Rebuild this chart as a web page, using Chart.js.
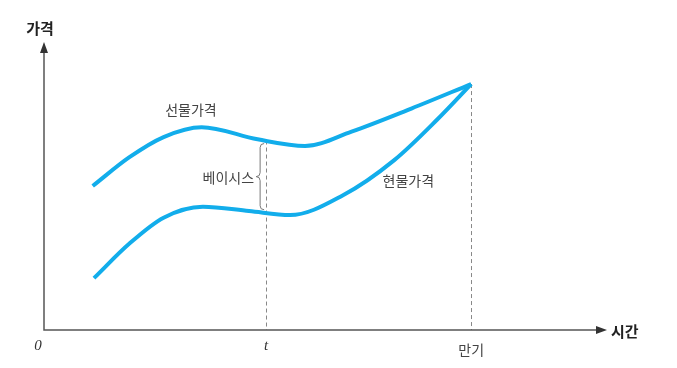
<!DOCTYPE html>
<html>
<head>
<meta charset="utf-8">
<script src="https://cdn.jsdelivr.net/npm/chart.js@4"></script>
<style>
  html, body { margin: 0; padding: 0; background: #fff; }
  canvas { display: block; }
</style>
</head>
<body>
<canvas id="basisChart" width="677" height="368"></canvas>
<script>
// time axis: 0 = origin, 10 = maturity
const futuresX = [1.14, 2.0, 2.8, 3.69, 5.0, 6.11, 7.2, 8.6, 10];
const futuresY = [5.00, 6.00, 6.70, 7.04, 6.62, 6.39, 6.89, 7.69, 8.54];
const spotX = [1.17, 2.0, 2.8, 3.72, 4.8, 5.76, 7.0, 8.2, 9.2, 10];
const spotY = [1.80, 3.00, 3.90, 4.28, 4.13, 3.99, 4.68, 5.90, 7.30, 8.54];

const seriesNames = ['선물가격', '현물가격'];
const xTickValues = [0, 5.2, 10];
const xTickLabels = ['0', 't', '만기'];
const axisTitles = ['시간', '가격'];
const basisLabel = '베이시스';

const LINE_COLOR = '#12adeb';
const FONT = '"Noto Sans CJK KR", "Noto Sans", sans-serif';

function toPoints(xs, ys) {
  return xs.map((x, i) => ({ x: x, y: ys[i] }));
}

function valueAt(xs, ys, x) {
  for (let i = 0; i < xs.length - 1; i++) {
    if (x >= xs[i] && x <= xs[i + 1]) {
      const f = (x - xs[i]) / (xs[i + 1] - xs[i]);
      return ys[i] + f * (ys[i + 1] - ys[i]);
    }
  }
  return ys[ys.length - 1];
}

const diagramPlugin = {
  id: 'diagram',
  beforeDatasetsDraw(chart) {
    const ctx = chart.ctx;
    const xs = chart.scales.x, ys = chart.scales.y;
    const y0 = ys.getPixelForValue(0);

    // dashed guides at t and maturity
    ctx.save();
    ctx.strokeStyle = '#888';
    ctx.lineWidth = 1;
    ctx.setLineDash([4, 3]);
    const tx = xs.getPixelForValue(xTickValues[1]);
    const tTop = ys.getPixelForValue(valueAt(futuresX, futuresY, xTickValues[1]));
    ctx.beginPath();
    ctx.moveTo(Math.round(tx) + 0.5, tTop);
    ctx.lineTo(Math.round(tx) + 0.5, y0);
    const mx = xs.getPixelForValue(xTickValues[2]);
    ctx.moveTo(Math.round(mx) + 0.5, ys.getPixelForValue(futuresY[futuresY.length - 1]));
    ctx.lineTo(Math.round(mx) + 0.5, y0);
    ctx.stroke();
    ctx.restore();
  },
  afterDraw(chart) {
    const ctx = chart.ctx;
    const xs = chart.scales.x, ys = chart.scales.y;
    const x0 = xs.getPixelForValue(0);
    const y0 = ys.getPixelForValue(0);
    const xEnd = chart.chartArea.right;
    const yEnd = chart.chartArea.top;

    ctx.save();
    // axes
    ctx.strokeStyle = '#555';
    ctx.fillStyle = '#333';
    ctx.lineWidth = 1.5;
    ctx.beginPath();
    ctx.moveTo(x0, yEnd + 8);
    ctx.lineTo(x0, y0);
    ctx.lineTo(xEnd - 8, y0);
    ctx.stroke();
    // arrow heads
    ctx.beginPath();
    ctx.moveTo(x0, yEnd);
    ctx.lineTo(x0 - 4, yEnd + 11);
    ctx.lineTo(x0 + 4, yEnd + 11);
    ctx.closePath();
    ctx.fill();
    ctx.beginPath();
    ctx.moveTo(xEnd, y0);
    ctx.lineTo(xEnd - 11, y0 - 4);
    ctx.lineTo(xEnd - 11, y0 + 4);
    ctx.closePath();
    ctx.fill();

    // axis titles
    ctx.fillStyle = '#222';
    ctx.font = 'bold 15px ' + FONT;
    ctx.textBaseline = 'middle';
    ctx.textAlign = 'left';
    ctx.fillText(axisTitles[0], xEnd + 4, y0 + 1);
    ctx.textAlign = 'center';
    ctx.fillText(axisTitles[1], x0 - 4, yEnd - 14);

    // x tick labels
    xTickLabels.forEach((lab, i) => {
      const px = xs.getPixelForValue(xTickValues[i]);
      if (i < 2) {
        ctx.font = 'italic 15px "Liberation Serif", "DejaVu Serif", serif';
        ctx.fillStyle = '#333';
        ctx.fillText(lab, px - (i === 0 ? 6 : 0), y0 + 16);
      } else {
        ctx.font = '14px ' + FONT;
        ctx.fillStyle = '#444';
        ctx.fillText(lab, px, y0 + 20);
      }
    });

    // series labels
    ctx.font = '14px ' + FONT;
    ctx.fillStyle = '#444';
    ctx.textAlign = 'center';
    ctx.fillText(seriesNames[0], xs.getPixelForValue(3.44), ys.getPixelForValue(7.64));
    ctx.fillText(seriesNames[1], xs.getPixelForValue(8.53), ys.getPixelForValue(5.17));

    // basis brace
    const bt = xTickValues[1];
    const bx = xs.getPixelForValue(bt) - 6;
    const top = ys.getPixelForValue(valueAt(futuresX, futuresY, bt)) + 3;
    const bot = ys.getPixelForValue(valueAt(spotX, spotY, bt)) - 3;
    const mid = (top + bot) / 2;
    ctx.strokeStyle = '#777';
    ctx.lineWidth = 1;
    ctx.beginPath();
    ctx.moveTo(bx + 4, top);
    ctx.quadraticCurveTo(bx, top, bx, top + 4);
    ctx.lineTo(bx, mid - 4);
    ctx.quadraticCurveTo(bx, mid, bx - 4, mid);
    ctx.quadraticCurveTo(bx, mid, bx, mid + 4);
    ctx.lineTo(bx, bot - 4);
    ctx.quadraticCurveTo(bx, bot, bx + 4, bot);
    ctx.stroke();
    ctx.textAlign = 'right';
    ctx.fillText(basisLabel, bx - 6, mid + 1);
    ctx.restore();
  }
};

const chart = new Chart(document.getElementById('basisChart'), {
  type: 'line',
  data: {
    datasets: [
      {
        label: seriesNames[0],
        data: toPoints(futuresX, futuresY),
        borderColor: LINE_COLOR,
        borderWidth: 4,
        cubicInterpolationMode: 'monotone',
        pointRadius: 0,
        fill: false
      },
      {
        label: seriesNames[1],
        data: toPoints(spotX, spotY),
        borderColor: LINE_COLOR,
        borderWidth: 4,
        cubicInterpolationMode: 'monotone',
        pointRadius: 0,
        fill: false
      }
    ]
  },
  options: {
    responsive: false,
    animation: false,
    layout: { padding: { left: 44, right: 70, top: 42, bottom: 38 } },
    plugins: {
      legend: { display: false },
      tooltip: { enabled: false }
    },
    scales: {
      x: { type: 'linear', min: 0, max: 13.18, display: false },
      y: { type: 'linear', min: 0, max: 10, display: false }
    }
  },
  plugins: [diagramPlugin]
});
</script>
</body>
</html>
